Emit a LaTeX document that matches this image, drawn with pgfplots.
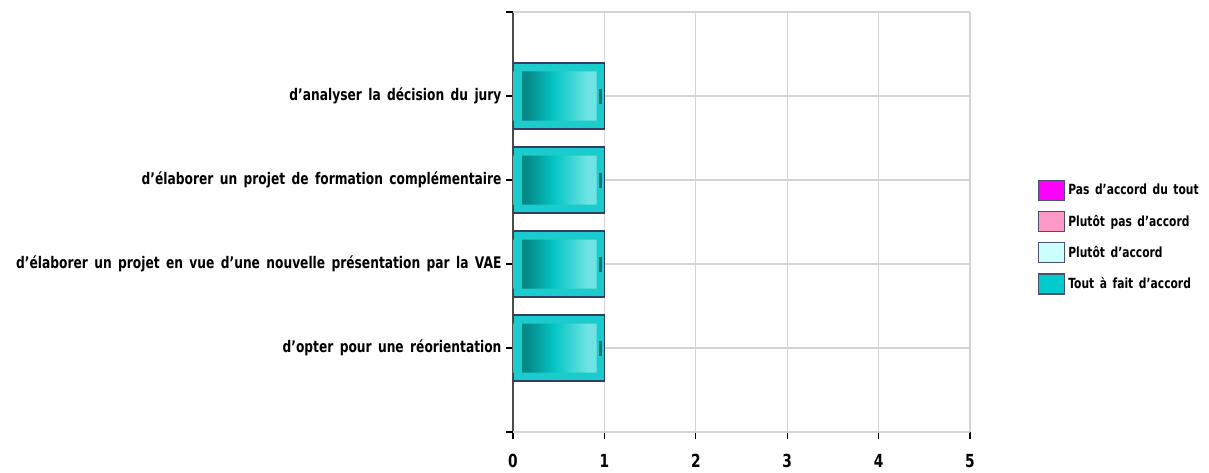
\documentclass[border=0pt]{standalone}
\usepackage{pgfplots}
\pgfplotsset{compat=1.18}
\usepackage{fontspec}
\setmainfont{DejaVu Sans}[FakeStretch=0.765, WordSpace=1.5]
\definecolor{barteal}{HTML}{1CCCCC}
\definecolor{baredge}{HTML}{2E3F6E}
\definecolor{tdark}{HTML}{058A8A}
\definecolor{tmid}{HTML}{05C6C6}
\definecolor{tlight}{HTML}{70E4E4}
\definecolor{tmark}{HTML}{17706E}
\definecolor{pmag}{HTML}{FF00FF}
\definecolor{ppink}{HTML}{FF99C8}
\definecolor{pcyan}{HTML}{CCFFFF}
\definecolor{pteal}{HTML}{00CCCC}
\definecolor{legedge}{HTML}{4A5070}
\definecolor{gridgray}{HTML}{D4D4D4}
% inner gradient with a plain teal frame left and right (path spans 25bp..75bp)
\pgfdeclarehorizontalshading{barshade}{100bp}{%
  color(0bp)=(barteal); color(29.5bp)=(barteal); color(29.51bp)=(tdark);
  color(33bp)=(tdark); color(47.5bp)=(tmid); color(66bp)=(tlight);
  color(70.5bp)=(tlight); color(70.51bp)=(barteal); color(100bp)=(barteal)}

\begin{document}
\begin{tikzpicture}[x=1pt,y=1pt]
\path[use as bounding box] (0,0) rectangle (1209,472);
\begin{axis}[
    at={(513pt,40pt)}, anchor=south west,
    scale only axis, width=457pt, height=420pt,
    xmin=0, xmax=5, ymin=0, ymax=5,
    axis lines*=left,
    axis line style={black!70, line width=1.1pt},
    tick style={black, line width=1.1pt},
    tick align=outside, major tick length=7pt,
    xtick={0,...,5},
    ytick={1,2,3,4},
    yticklabels={d'opter pour une réorientation,
                 d'élaborer un projet en vue d'une nouvelle présentation par la VAE,
                 d'élaborer un projet de formation complémentaire,
                 d'analyser la décision du jury},
    extra y ticks={0,5}, extra y tick labels={},
    extra y tick style={grid=major},
    xmajorgrids, ymajorgrids,
    grid style={gridgray, line width=1.1pt},
    /pgf/number format/assume math mode=true,
    ticklabel style={font=\fontsize{16}{18}\selectfont\bfseries},
    xticklabel style={font=\fontsize{18}{20}\selectfont\bfseries, yshift=-12pt},
    yticklabel style={xshift=-1pt},
    legend style={at={(1.142,0.464)}, anchor=west, draw=none, fill=none,
        font=\fontsize{14}{16}\selectfont\bfseries, row sep=10pt,
        nodes={inner xsep=3pt}},
    legend cell align=left,
    legend image code/.code={\draw[#1, draw=legedge, line width=1.2pt] (0pt,-10pt) rectangle (26pt,10pt);},
]
\addlegendimage{fill=pmag}
\addlegendentry{Pas d'accord du tout}
\addlegendimage{fill=ppink}
\addlegendentry{Plutôt pas d'accord}
\addlegendimage{fill=pcyan}
\addlegendentry{Plutôt d'accord}
\addlegendimage{fill=pteal}
\addlegendentry{Tout à fait d'accord}

\addplot[xbar, bar shift=0pt, bar width=66pt, fill=barteal, draw=baredge,
    line width=1.3pt, forget plot]
    coordinates {(1,1) (1,2) (1,3) (1,4)};
\addplot[xbar, bar shift=0pt, bar width=49pt, draw=none, shading=barshade,
    forget plot]
    coordinates {(1,1) (1,2) (1,3) (1,4)};
\addplot[only marks, mark=|, mark size=7.5pt, mark options={draw=tmark, line width=2.5pt},
    forget plot]
    coordinates {(0.955,1) (0.955,2) (0.955,3) (0.955,4)};
\end{axis}
\end{tikzpicture}
\end{document}
